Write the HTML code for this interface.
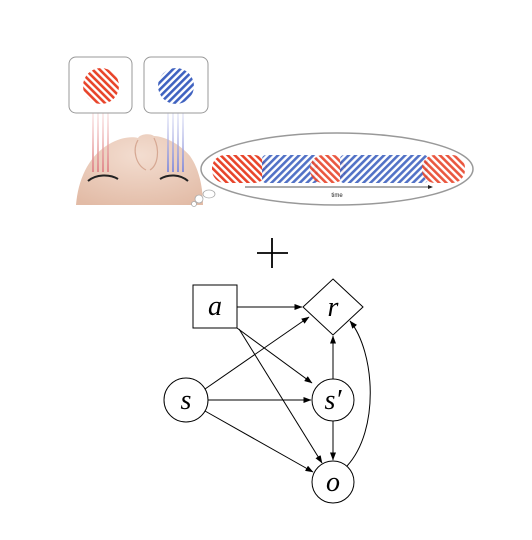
<!DOCTYPE html>
<html><head><meta charset="utf-8"><style>
html,body{margin:0;padding:0;background:#fff;width:532px;height:540px;overflow:hidden}
svg{display:block}
</style></head><body>
<svg width="532" height="540" viewBox="0 0 532 540">
<defs>
<pattern id="redS" patternUnits="userSpaceOnUse" width="5" height="5" patternTransform="rotate(-45)">
<rect width="5" height="5" fill="#fff"/><rect width="2.6" height="5" fill="#e8442a"/></pattern>
<pattern id="blueS" patternUnits="userSpaceOnUse" width="5" height="5" patternTransform="rotate(45)">
<rect width="5" height="5" fill="#fff"/><rect width="2.6" height="5" fill="#3f62c0"/></pattern>
<linearGradient id="rayR" x1="0" y1="0" x2="0" y2="1"><stop offset="0" stop-color="#f4c4c4" stop-opacity="0.2"/><stop offset="1" stop-color="#e08a8c"/></linearGradient>
<linearGradient id="rayB" x1="0" y1="0" x2="0" y2="1"><stop offset="0" stop-color="#c8cdf0" stop-opacity="0.2"/><stop offset="1" stop-color="#8a90d8"/></linearGradient>
<radialGradient id="skin" cx="0.5" cy="0.3" r="0.8"><stop offset="0" stop-color="#f3ddd0"/><stop offset="1" stop-color="#e2bba6"/></radialGradient>
<marker id="ah" markerWidth="8" markerHeight="6" refX="7.5" refY="3" orient="auto" markerUnits="userSpaceOnUse"><path d="M0,0 L8,3 L0,6 Z" fill="#000"/></marker>
</defs>

<g>
<path d="M76,205 C78,180 88,158 106,146 C118,138 130,136 138,138 C140,134 150,133 154,136 C164,136 180,144 190,156 C200,170 203,190 203,205 Z" fill="url(#skin)"/>
<path d="M138,140 C132,150 136,165 146,170 M154,138 C160,150 158,165 150,170" stroke="#d6a893" fill="none" stroke-width="1.2"/>
<path d="M88,181 C96,174 110,174 118,179" stroke="#222" stroke-width="2" fill="none"/>
<path d="M160,179 C168,174 180,174 188,181" stroke="#222" stroke-width="2" fill="none"/>
<g>
<rect x="92" y="105" width="2" height="67" fill="url(#rayR)"/><rect x="97" y="105" width="2" height="67" fill="url(#rayR)"/><rect x="102" y="105" width="2" height="67" fill="url(#rayR)"/><rect x="107" y="105" width="2" height="67" fill="url(#rayR)"/></g>
<g>
<rect x="167" y="105" width="2" height="67" fill="url(#rayB)"/><rect x="172" y="105" width="2" height="67" fill="url(#rayB)"/><rect x="177" y="105" width="2" height="67" fill="url(#rayB)"/><rect x="182" y="105" width="2" height="67" fill="url(#rayB)"/></g>
<rect x="69" y="57" width="63" height="56" rx="7" fill="#fff" stroke="#999" stroke-width="1"/>
<rect x="144" y="57" width="64" height="56" rx="7" fill="#fff" stroke="#999" stroke-width="1"/>
<circle cx="101" cy="86" r="18" fill="url(#redS)"/>
<circle cx="176" cy="86" r="18" fill="url(#blueS)"/>
<circle cx="194" cy="204" r="2.5" fill="#fff" stroke="#aaa" stroke-width="0.8"/>
<circle cx="199" cy="199" r="4" fill="#fff" stroke="#aaa" stroke-width="0.8"/>
<ellipse cx="209" cy="194" rx="6" ry="4" fill="#fff" stroke="#aaa" stroke-width="0.8"/>
</g>

<g>
<ellipse cx="337" cy="169" rx="136" ry="36" fill="#fff" stroke="#999" stroke-width="1.5"/>
<rect x="212" y="155" width="55" height="28" rx="13" fill="url(#redS)"/>
<rect x="262" y="155" width="56" height="28" rx="4" fill="url(#blueS)" opacity="0.9"/>
<rect x="310" y="155" width="36" height="28" rx="13" fill="url(#redS)" opacity="0.9"/>
<rect x="340" y="155" width="88" height="28" rx="4" fill="url(#blueS)" opacity="0.9"/>
<rect x="422" y="155" width="43" height="28" rx="13" fill="url(#redS)" opacity="0.9"/>
<line x1="245" y1="187" x2="428" y2="187" stroke="#222" stroke-width="0.8"/>
<path d="M428,185 L433,187 L428,189 Z" fill="#222"/>
<text x="337" y="197" font-family="Liberation Sans, sans-serif" font-size="6" text-anchor="middle" fill="#222">time</text>
</g>

<g stroke="#000" stroke-width="1.8">
<line x1="272" y1="238" x2="272" y2="268"/><line x1="257" y1="253" x2="288" y2="253"/>
</g>

<g stroke="#000" stroke-width="1" fill="none">
<line x1="237" y1="307" x2="302" y2="307" marker-end="url(#ah)"/>
<line x1="237" y1="328" x2="312" y2="383" marker-end="url(#ah)"/>
<line x1="239" y1="329" x2="322" y2="463" marker-end="url(#ah)"/>
<line x1="205" y1="389" x2="309" y2="317" marker-end="url(#ah)"/>
<line x1="208" y1="400" x2="311" y2="400" marker-end="url(#ah)"/>
<line x1="205" y1="411" x2="313" y2="472" marker-end="url(#ah)"/>
<line x1="333" y1="379" x2="333" y2="336" marker-end="url(#ah)"/>
<line x1="333" y1="421" x2="333" y2="460" marker-end="url(#ah)"/>
<path d="M347,466 C380,430 375,352 350,321" marker-end="url(#ah)"/>
<rect x="193" y="285" width="44" height="43" fill="#fff"/>
<path d="M333,279 L363,307 L333,335 L303,307 Z" fill="#fff"/>
<circle cx="186" cy="400" r="22" fill="#fff"/>
<circle cx="333" cy="400" r="21" fill="#fff"/>
<circle cx="333" cy="482" r="21" fill="#fff"/>
</g>
<g font-family="Liberation Serif, serif" font-style="italic" font-size="28" text-anchor="middle" fill="#000">
<text x="215" y="315">a</text>
<text x="333" y="316">r</text>
<text x="186" y="409">s</text>
<text x="333" y="409">s′</text>
<text x="333" y="491">o</text>
</g>
</svg>
</body></html>
